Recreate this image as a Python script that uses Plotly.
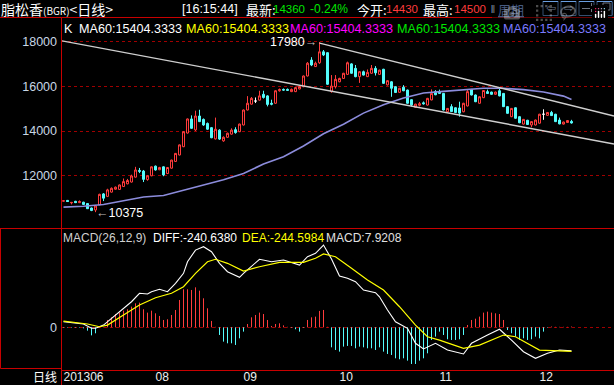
import plotly.graph_objects as go

# ---------------- data ----------------
opens = [10870,10900,10790,10860,10800,10820,10760,10560,10470,10700,
         11190,11080,11270,11400,11390,11520,11640,11720,11940,12240,
         12210,11830,12000,12430,12270,12400,12100,12340,12640,12930,
         13300,13910,14540,14050,14670,14520,14340,14150,13650,14040,
         13560,13720,13860,14060,13970,14270,14940,15200,15340,15380,
         15640,15570,15240,15240,15800,15860,15860,15760,15760,15880,
         15980,16460,17170,16880,17050,17540,17500,15760,15980,16200,
         16350,16530,17000,16800,16430,16650,16430,16580,16800,16530,
         16760,16060,16200,15980,15730,15960,15830,15400,15060,15150,
         15260,15160,15390,15760,15760,15680,14860,15090,15040,15030,
         14860,15120,15860,15610,15240,15490,15760,15740,15640,15800,
         15680,15090,14640,15040,14640,14310,14480,14270,14270,14350,
         14750,14700,14830,14750,14490,14310,14380,14430]
highs = [10900,10920,10830,10880,10900,10840,10780,10580,10700,11200,
         11230,11420,11480,11520,11610,11880,11860,12050,12400,12350,
         12260,12020,12420,12460,12400,12420,12390,12720,13020,13400,
         13990,14560,14700,14910,14950,14560,14380,14180,14600,14080,
         13760,13930,14120,14170,14330,14960,15560,15520,15500,15800,
         15800,15600,15400,15820,15900,15900,15900,15900,15980,16020,
         16480,17080,17300,17100,17980,17620,17520,16500,16500,16380,
         16600,17100,17030,16950,16680,16700,16750,16950,16900,16740,
         16780,16270,16230,16000,15930,16050,15850,15420,15220,15300,
         15320,15480,15860,15830,15850,15700,15030,15200,15060,15310,
         15260,15830,15880,15630,15550,15830,15850,15760,15760,15950,
         15700,15110,15030,15060,14660,14540,14500,14440,14510,14770,
         14970,14850,14900,14770,14600,14420,14490,14500]
lows = [10850,10830,10720,10780,10780,10700,10520,10420,10375,10680,
        10870,11050,11250,11380,11370,11500,11620,11700,11920,12120,
        11720,11780,11980,12230,12250,11980,12080,12320,12620,12910,
        13280,13890,14100,14000,14400,14230,14050,13680,13620,13600,
        13520,13700,13840,13880,13950,14250,14920,15180,15250,15360,
        15450,15100,15150,15220,15760,15800,15790,15740,15740,15860,
        15960,16440,16900,16860,17000,17350,16060,15710,15900,16180,
        16330,16510,16560,16400,16150,16480,16410,16560,16480,16510,
        16110,16040,15530,15700,15710,15780,15220,15100,15040,15100,
        15180,15140,15370,15600,15660,14920,14840,14850,14810,14640,
        14840,15100,15590,15290,15220,15470,15660,15620,15620,15550,
        15070,14770,14620,14550,14350,14290,14270,14170,14250,14330,
        14500,14680,14670,14400,14300,14290,14360,14330]
closes = [10880,10850,10810,10800,10850,10720,10530,10450,10650,11170,
          11000,11370,11440,11490,11590,11740,11790,11990,12260,12200,
          11840,12000,12400,12260,12370,12040,12370,12700,13000,13380,
          13970,14540,14120,14670,14420,14270,14080,13700,14080,13640,
          13720,13900,14040,13930,14310,14940,15240,15460,15340,15570,
          15500,15190,15200,15800,15850,15830,15820,15860,15940,15990,
          16460,17030,16950,17030,17540,17400,16090,16010,16310,16350,
          16580,17050,16580,16430,16650,16500,16620,16800,16600,16720,
          16130,16250,15910,15720,15910,15800,15240,15170,15200,15220,
          15220,15460,15680,15620,15680,14940,15010,14870,14830,14800,
          15240,15760,15610,15310,15530,15810,15680,15640,15740,15570,
          15090,14790,15010,14570,14370,14520,14290,14420,14490,14750,
          14750,14830,14690,14420,14320,14400,14470,14360]

ma60_idx = [0,5,10,15,20,25,30,35,40,45,50,55,60,65,70,75,80,85,90,95,100,105,110,115,120,125,127]
ma60_val = [10600,10640,10720,10870,11050,11120,11350,11590,11820,12100,12530,12850,13330,13880,14300,14800,15170,
            15480,15700,15770,15840,15910,15910,15850,15740,15560,15404.3333]

diff_idx = [0,5,7,8,10,12,15,17,19,21,22,24,26,28,30,31,33,35,37,39,41,44,45,48,49,52,55,59,61,63,
            65,67,69,71,73,75,78,79,81,83,86,88,90,93,96,100,102,106,109,112,115,118,121,124,127]
diff_val = [57,34,-10,-10,23,92,194,261,347,340,363,388,363,449,551,669,788,822,771,653,567,510,551,653,694,
            669,686,635,720,755,839,697,523,500,465,380,353,312,176,57,-10,-163,-221,-163,-232,-272,-163,-79,
            -20,-130,-249,-316,-265,-232,-240.638]
dea_idx = [0,6,9,11,15,19,23,27,30,33,36,38,41,45,49,54,60,63,65,68,72,76,80,84,88,91,94,100,104,110,113,119,127]
dea_val = [64,34,6,23,125,227,302,347,414,551,669,694,653,574,618,663,663,704,748,720,602,482,380,210,23,
           -96,-130,-214,-181,-79,-96,-232,-244.5984]
macd_hist = [-5,-5,-5,-5,-5,-10,-34,-82,-61,5,
             5,75,102,136,150,170,184,211,245,252,
             184,150,170,143,116,75,82,126,177,279,
             388,388,381,408,374,296,194,65,5,-78,
             -146,-163,-163,-180,-112,-44,34,102,126,150,
             136,75,14,34,41,20,5,-5,-20,-44,
             -5,75,102,109,167,177,5,-204,-231,-248,
             -197,-190,-190,-214,-197,-204,-214,-214,-231,-204,
             -248,-272,-282,-316,-326,-316,-340,-374,-374,-340,
             -316,-265,-129,-95,-44,-78,-122,-129,-129,-122,
             -78,24,75,88,109,150,160,150,143,136,
             75,-27,-61,-95,-129,-112,-129,-122,-95,-112,
             -44,-5,8,5,5,5,5,8]

month_idx = [0, 23, 45, 69, 94, 119]
month_lbl = ["201306", "08", "09", "10", "11", "12"]
price_ticks = [12000, 14000, 16000, 18000]

trend_upper_idx = [64, 137.625]
trend_upper_val = [17930, 14671]
trend_lower_idx = [-0.375, 137.625]
trend_lower_val = [18030, 13420]

# ---------------- styling ----------------
W, H = 614, 385
RED = "#ff3c3c"
CYAN = "#54fcfc"
FRAME = "#c80000"
FONT = "Liberation Sans, Arial, Noto Sans CJK SC, sans-serif"
CJK = "Noto Sans CJK SC, Liberation Sans, sans-serif"
XR = [-0.375, 137.625]


def px(x):
    return x / W


def py(y):
    return 1 - y / H


n = len(closes)
xs = list(range(n))
flat = [opens[i] == closes[i] for i in xs]


def pick(arr, want_flat):
    return [arr[i] if flat[i] == want_flat else None for i in xs]


fig = go.Figure()

fig.add_trace(go.Candlestick(
    x=xs, open=pick(opens, False), high=pick(highs, False), low=pick(lows, False), close=pick(closes, False),
    increasing=dict(line=dict(color=RED, width=1), fillcolor="#000000"),
    decreasing=dict(line=dict(color=CYAN, width=1), fillcolor=CYAN),
    hoverinfo="skip", xaxis="x", yaxis="y", showlegend=False))
fig.add_trace(go.Candlestick(
    x=xs, open=pick(opens, True), high=pick(highs, True), low=pick(lows, True), close=pick(closes, True),
    increasing=dict(line=dict(color="#ffffff", width=1), fillcolor="#ffffff"),
    decreasing=dict(line=dict(color="#ffffff", width=1), fillcolor="#ffffff"),
    hoverinfo="skip", xaxis="x", yaxis="y", showlegend=False))

fig.add_trace(go.Scatter(x=ma60_idx, y=ma60_val, mode="lines", line=dict(color="#8c8cdc", width=1.6),
                         hoverinfo="skip", showlegend=False, xaxis="x", yaxis="y"))
fig.add_trace(go.Scatter(x=trend_lower_idx, y=trend_lower_val, mode="lines", line=dict(color="#cfcfcf", width=1.4),
                         hoverinfo="skip", showlegend=False, xaxis="x", yaxis="y"))
fig.add_trace(go.Scatter(x=trend_upper_idx, y=trend_upper_val, mode="lines", line=dict(color="#cfcfcf", width=1.4),
                         hoverinfo="skip", showlegend=False, xaxis="x", yaxis="y"))

# MACD histogram as thin vertical sticks
for sign, col in ((1, RED), (-1, CYAN)):
    hx, hy = [], []
    for i, v in zip(xs, macd_hist):
        if (v >= 0) == (sign > 0):
            hx += [i, i, None]
            hy += [0, v, None]
    fig.add_trace(go.Scatter(x=hx, y=hy, mode="lines", line=dict(color=col, width=1),
                             hoverinfo="skip", showlegend=False, xaxis="x2", yaxis="y2"))
fig.add_trace(go.Scatter(x=diff_idx, y=diff_val, mode="lines", line=dict(color="#ffffff", width=1.1),
                         hoverinfo="skip", showlegend=False, xaxis="x2", yaxis="y2"))
fig.add_trace(go.Scatter(x=dea_idx, y=dea_val, mode="lines", line=dict(color="#ffff00", width=1.2),
                         hoverinfo="skip", showlegend=False, xaxis="x2", yaxis="y2"))

TICKCOL = "#c8d7e6"
fig.update_layout(
    width=W, height=H, margin=dict(l=0, r=0, t=0, b=0),
    paper_bgcolor="#000000", plot_bgcolor="#000000",
    boxgap=0.5, boxgroupgap=0, boxmode="overlay",
    font=dict(family=FONT),
    xaxis=dict(domain=[px(62), 1], range=XR, anchor="y", showticklabels=False, showgrid=False,
               zeroline=False, showline=False, rangeslider=dict(visible=False), fixedrange=True),
    yaxis=dict(domain=[py(228), py(18)], range=[9667, 19050], tickvals=price_ticks,
               ticktext=[str(v) for v in price_ticks], showgrid=True, gridcolor="#a00000", griddash="dot",
               gridwidth=1, zeroline=False, showline=False, ticks="", ticklabelstandoff=4,
               tickfont=dict(color=TICKCOL, size=12.5, family=FONT), fixedrange=True),
    xaxis2=dict(domain=[px(62), 1], range=XR, anchor="y2", tickvals=month_idx, ticktext=month_lbl,
                ticklabelposition="outside right", tickfont=dict(color="#f0f0f0", size=12, family=FONT),
                showgrid=False, zeroline=False, showline=False, ticks="", fixedrange=True),
    yaxis2=dict(domain=[py(368), py(229)], range=[-415, 1003], tickvals=[0], ticktext=["0"],
                showgrid=True, gridcolor="#a00000", griddash="dot", gridwidth=1, zeroline=False,
                showline=False, ticks="", ticklabelstandoff=4,
                tickfont=dict(color=TICKCOL, size=12.5, family=FONT), fixedrange=True),
)

shapes = []


def hline(y, x0, x1, color=FRAME, width=1):
    shapes.append(dict(type="line", xref="paper", yref="paper", x0=px(x0), x1=px(x1), y0=py(y), y1=py(y),
                       line=dict(color=color, width=width)))


def vline(x, y0, y1, color=FRAME, width=1, dash=None):
    d = dict(color=color, width=width)
    if dash:
        d["dash"] = dash
    shapes.append(dict(type="line", xref="paper", yref="paper", x0=px(x), x1=px(x), y0=py(y0), y1=py(y1), line=d))


def rect(x0, y0, x1, y1, color=FRAME, width=1):
    shapes.append(dict(type="rect", xref="paper", yref="paper", x0=px(x0), x1=px(x1), y0=py(y0), y1=py(y1),
                       line=dict(color=color, width=width)))


hline(17.5, 0, 614)
vline(61.5, 17.5, 385)
hline(228.5, 0, 614)
rect(0.5, 228.5, 61.5, 368.5)
hline(370.5, 61.5, 614)

ICON = "#6a9ee0"
for x0 in (543, 561, 579, 597):
    rect(x0, 1.5, x0 + 15, 15.5, color=ICON)
hline(8.5, 582, 590, color="#dce8ff")
vline(591.5, 3, 14, color="#dce8ff", dash="dot")
rect(600, 6, 607, 13, color="#dce8ff")
rect(603, 3, 610, 10, color="#dce8ff")

ann = []


def txt(x, y, s, color, size=13, anchor="left", family=FONT):
    ann.append(dict(x=px(x), y=py(y), xref="paper", yref="paper", text=s, showarrow=False, xanchor=anchor,
                    yanchor="middle", font=dict(color=color, size=size, family=family), borderpad=0))


# title bar
txt(0, 9, "脂松香<span style='font-size:10px'>(BGR)</span>&lt;日线&gt;", "#ffffff", 14, family=CJK)
txt(181, 9, "[16:15:44]", "#ffffff", 12.5)
txt(245, 9, "最新:", "#ffffff", 13, family=CJK)
txt(272, 9, "14360", "#00e600", 11.5)
txt(309, 9, "-0.24%", "#00e600", 12)
txt(356, 9, "今开:", "#ffffff", 13, family=CJK)
txt(385, 9, "14430", RED, 11.5)
txt(422, 9, "最高:", "#ffffff", 13, family=CJK)
txt(453, 9, "14500", RED, 11.5)
txt(490, 9, "‖", "#ffffff", 10)
txt(497, 9, "<u>周期</u>", "#8cb4ff", 13, family=CJK)
txt(550.5, 8.5, "⇦", "#c8dcff", 12, anchor="center", family="DejaVu Sans")
txt(568.5, 8.5, "⇨", "#c8dcff", 12, anchor="center", family="DejaVu Sans")

# main legend
txt(63, 29, "K", "#ffffff", 12.6)
txt(78, 29, "MA60:15404.3333", "#ffffff", 12.6)
txt(185, 29, "MA60:15404.3333", "#ffff00", 12.6)
txt(289, 29, "MA60:15404.3333", "#ff00ff", 12.6)
txt(396, 29, "MA60:15404.3333", "#00e600", 12.6)
txt(502, 29, "MA60:15404.3333", "#7a7aff", 12.6)

# extreme labels
txt(318, 42, "17980<span style='color:#bdbdbd'>→</span>", "#ffffff", 12.5, anchor="right")
txt(95, 213, "<span style='color:#bdbdbd'>←</span>10375", "#ffffff", 12.5)

# MACD legend
txt(62, 238, "MACD(26,12,9)", "#d0d0d0", 12)
txt(152, 238, "DIFF:-240.6380", "#ffffff", 12)
txt(241, 238, "DEA:-244.5984", "#ffff00", 12)
txt(325, 238, "MACD:7.9208", "#e0e0e0", 12)

# bottom-left label
txt(58, 376.5, "日线", "#ffffff", 12, anchor="right", family=CJK)

fig.update_layout(shapes=shapes, annotations=ann)
fig.write_html("out.html", post_script="document.body.style.margin='0';document.body.style.overflow='hidden';")
